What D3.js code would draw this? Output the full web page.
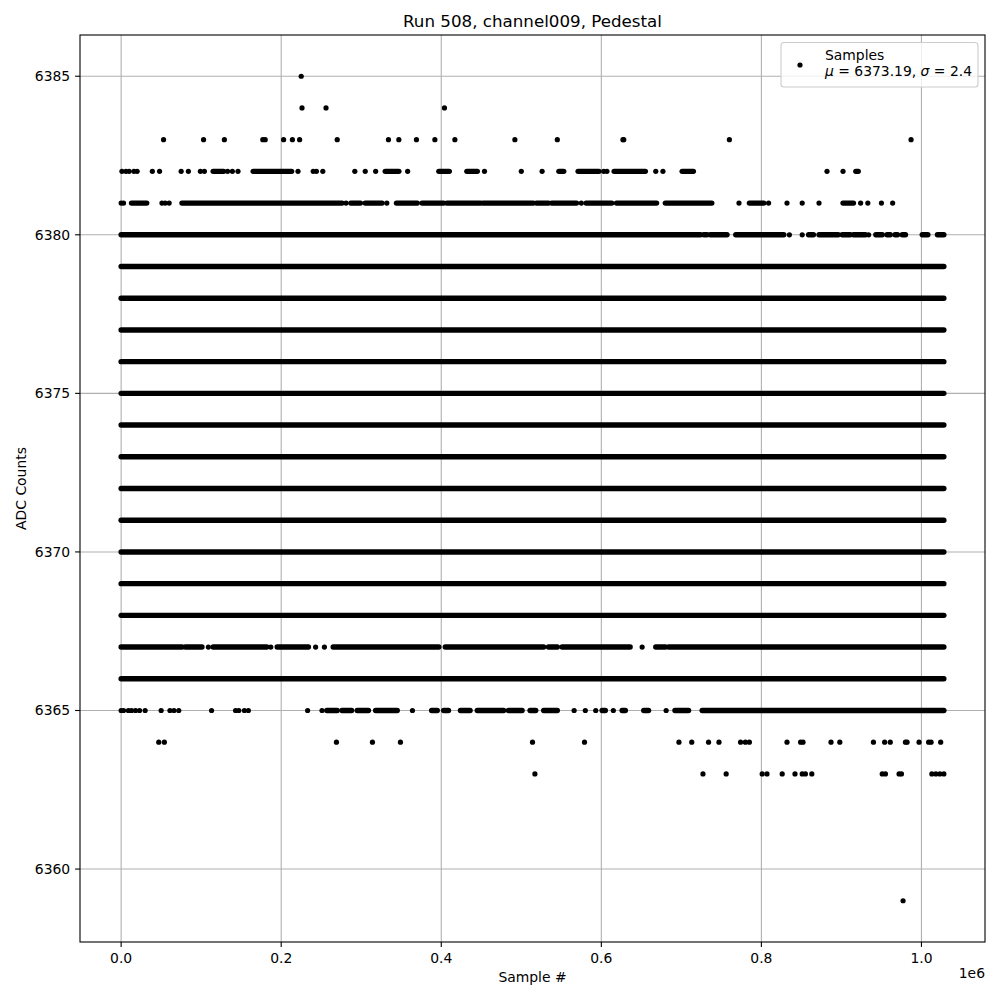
<!DOCTYPE html>
<html>
<head>
<meta charset="utf-8">
<script src="https://cdn.jsdelivr.net/npm/d3@7"></script>
<style>
  html, body { margin: 0; padding: 0; background: #fff; }
  svg { display: block; font-family: "DejaVu Sans", sans-serif; }
</style>
</head>
<body>
<svg id="chart" width="1000" height="1000"></svg>
<script>
// ---------------- data (sample numbers in thousands) ----------------
const xTicks = [0, 200, 400, 600, 800, 1000];
const xTickLabels = ["0.0", "0.2", "0.4", "0.6", "0.8", "1.0"];
const yTicks = [6360, 6365, 6370, 6375, 6380, 6385];
const sampleRange = [0, 1028];

// levels that are filled over the whole run
const fullLevels = [6366, 6368, 6369, 6370, 6371, 6372, 6373, 6374, 6375, 6376, 6377, 6378, 6379];

// dense stretches [from, to] for partially filled levels
const runs6380 = [[0,724],[728,732],[736,757],[768,828],[835,835],[851,851],[859,865],[872,896],[901,911],[915,930],[934,934],[943,951],[957,961],[967,970],[976,980],[1001,1008],[1020,1028]];
const runs6381 = [[0,0],[3,3],[13,32],[51,51],[55,55],[60,60],[76,276],[281,281],[287,299],[305,326],[332,332],[344,370],[376,403],[407,449],[452,515],[519,534],[538,569],[575,575],[581,613],[619,669],[680,738],[772,772],[785,803],[809,809],[832,832],[851,851],[872,872],[902,915],[924,924],[933,933],[950,950],[964,964]];
const runs6382 = [[1,1],[6,6],[10,10],[16,16],[20,20],[39,39],[48,48],[75,75],[84,84],[99,99],[104,104],[115,128],[133,133],[139,139],[146,146],[165,213],[221,221],[240,240],[244,244],[252,252],[292,292],[305,305],[318,318],[330,347],[358,358],[397,410],[432,445],[454,454],[500,500],[526,526],[547,553],[571,597],[603,603],[607,607],[616,655],[668,668],[677,677],[701,715],[882,882],[902,902],[918,921]];
const runs6367 = [[0,76],[80,101],[109,109],[115,182],[187,187],[195,234],[243,243],[254,254],[265,397],[405,528],[534,545],[551,636],[651,651],[668,680],[684,1028]];
const runs6365 = [[0,0],[3,3],[9,9],[13,13],[18,18],[23,23],[30,30],[50,50],[61,61],[66,66],[72,72],[113,113],[143,143],[147,147],[154,154],[159,159],[233,233],[251,251],[257,270],[276,288],[295,309],[318,345],[364,364],[388,395],[403,409],[424,436],[445,478],[484,501],[511,518],[528,545],[566,566],[580,580],[593,593],[601,605],[615,615],[626,630],[653,659],[681,681],[692,709],[726,1028]];

// isolated samples for sparse levels
const points6385 = [225];
const points6384 = [226, 256, 404];
const points6383 = [53,103,129,177,180,203,214,223,270,334,347,369,392,417,492,545,627,628,760,987];
const points6364 = [47,54,269,314,349,514,579,697,713,734,747,774,780,785,832,849,852,887,898,940,954,961,980,982,997,1009,1012,1024];
const points6363 = [517,727,756,801,807,826,842,851,855,863,951,955,972,975,1013,1018,1023,1028];
const points6359 = [977];

const titleText = "Run 508, channel009, Pedestal";
const legendName = "Samples";
const legendMu = "6373.19";
const legendSigma = "2.4";

// ---------------- layout ----------------
const L = 80, R = 985, T = 35, B = 942;
const svg = d3.select("#chart");

const xPad = (sampleRange[1] - sampleRange[0]) * 0.05;
const x = d3.scaleLinear().domain([sampleRange[0] - xPad, sampleRange[1] + xPad]).range([L, R]);
const yMin = 6359, yMax = 6385, yPad = (yMax - yMin) * 0.05;
const y = d3.scaleLinear().domain([yMin - yPad, yMax + yPad]).range([B, T]);

// grid
const grid = svg.append("g");
grid.selectAll("line.gx").data(xTicks).join("line")
  .attr("x1", d => x(d)).attr("x2", d => x(d)).attr("y1", T).attr("y2", B)
  .attr("stroke", "#b0b0b0").attr("stroke-width", 1.1);
grid.selectAll("line.gy").data(yTicks).join("line")
  .attr("y1", d => y(d)).attr("y2", d => y(d)).attr("x1", L).attr("x2", R)
  .attr("stroke", "#b0b0b0").attr("stroke-width", 1.1);

// data marks
const marks = svg.append("g");
const runSets = [
  ...fullLevels.map(lv => ({ level: lv, runs: [sampleRange] })),
  { level: 6380, runs: runs6380 },
  { level: 6381, runs: runs6381 },
  { level: 6382, runs: runs6382 },
  { level: 6367, runs: runs6367 },
  { level: 6365, runs: runs6365 }
];
const runRows = runSets.flatMap(s => s.runs.map(r => ({ level: s.level, a: r[0], b: r[1] })));
marks.selectAll("line.run").data(runRows.filter(d => d.b > d.a)).join("line")
  .attr("x1", d => x(d.a)).attr("x2", d => x(d.b))
  .attr("y1", d => y(d.level)).attr("y2", d => y(d.level))
  .attr("stroke", "#000").attr("stroke-width", 5.4).attr("stroke-linecap", "round");

const pointSets = [
  { level: 6385, pts: points6385 },
  { level: 6384, pts: points6384 },
  { level: 6383, pts: points6383 },
  { level: 6364, pts: points6364 },
  { level: 6363, pts: points6363 },
  { level: 6359, pts: points6359 }
];
const pointRows = [
  ...pointSets.flatMap(s => s.pts.map(p => ({ level: s.level, s: p }))),
  ...runRows.filter(d => d.b === d.a).map(d => ({ level: d.level, s: d.a }))
];
marks.selectAll("circle.pt").data(pointRows).join("circle")
  .attr("cx", d => x(d.s)).attr("cy", d => y(d.level)).attr("r", 2.6)
  .attr("fill", "#000");

// axes frame
svg.append("rect").attr("x", L).attr("y", T).attr("width", R - L).attr("height", B - T)
  .attr("fill", "none").attr("stroke", "#000").attr("stroke-width", 1.1);

// ticks
const fs = 13.9;
const xt = svg.append("g");
xt.selectAll("line").data(xTicks).join("line")
  .attr("x1", d => x(d)).attr("x2", d => x(d)).attr("y1", B).attr("y2", B + 4.9)
  .attr("stroke", "#000").attr("stroke-width", 1.1);
xt.selectAll("text").data(xTicks).join("text")
  .attr("x", d => x(d)).attr("y", B + 20.5).attr("text-anchor", "middle")
  .attr("font-size", fs).text((d, i) => xTickLabels[i]);

const yt = svg.append("g");
yt.selectAll("line").data(yTicks).join("line")
  .attr("y1", d => y(d)).attr("y2", d => y(d)).attr("x1", L - 4.9).attr("x2", L)
  .attr("stroke", "#000").attr("stroke-width", 1.1);
yt.selectAll("text").data(yTicks).join("text")
  .attr("x", L - 9.8).attr("y", d => y(d)).attr("dy", "0.36em").attr("text-anchor", "end")
  .attr("font-size", fs).text(d => d);

// labels
svg.append("text").attr("x", (L + R) / 2).attr("y", 982).attr("text-anchor", "middle")
  .attr("font-size", fs).text("Sample #");
svg.append("text").attr("x", R).attr("y", 978).attr("text-anchor", "end")
  .attr("font-size", fs).text("1e6");
svg.append("text").attr("transform", `translate(26,${(T + B) / 2}) rotate(-90)`)
  .attr("text-anchor", "middle").attr("font-size", fs).text("ADC Counts");
svg.append("text").attr("x", (L + R) / 2).attr("y", 27).attr("text-anchor", "middle")
  .attr("font-size", 16.7).text(titleText);

// legend
const lg = svg.append("g");
lg.append("rect").attr("x", 781).attr("y", 42.5).attr("width", 197).attr("height", 44.5)
  .attr("rx", 3).attr("ry", 3)
  .attr("fill", "rgba(255,255,255,0.8)").attr("stroke", "#cccccc").attr("stroke-width", 1.1);
lg.append("circle").attr("cx", 800).attr("cy", 65).attr("r", 2.6).attr("fill", "#000");
lg.append("text").attr("x", 825).attr("y", 59.5).attr("font-size", fs).text(legendName);
const t2 = lg.append("text").attr("x", 825).attr("y", 76).attr("font-size", fs);
t2.append("tspan").attr("font-style", "italic").text("μ");
t2.append("tspan").text(" = " + legendMu + ", ");
t2.append("tspan").attr("font-style", "italic").text("σ");
t2.append("tspan").text(" = " + legendSigma);
</script>
</body>
</html>
